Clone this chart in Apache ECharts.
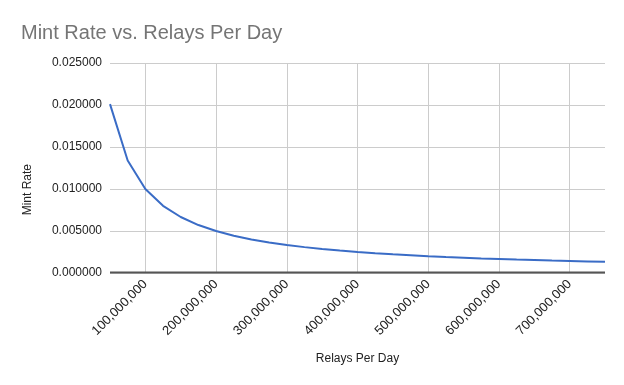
<!DOCTYPE html>
<html>
<head>
<meta charset="utf-8">
<script src="https://cdn.jsdelivr.net/npm/echarts@6/dist/echarts.min.js"></script>
<style>
html,body{margin:0;padding:0;background:#fff;}
#c{width:624px;height:385px;}
</style>
</head>
<body>
<div id="c"></div>
<script>
var relaysPerDay = [50e6, 75e6, 100e6, 125e6, 150e6, 175e6, 200e6, 225e6, 250e6, 275e6, 300e6, 325e6, 350e6, 375e6, 400e6, 425e6, 450e6, 475e6, 500e6, 525e6, 550e6, 575e6, 600e6, 625e6, 650e6, 675e6, 700e6, 725e6, 750e6];
var mintRate = [0.0201, 0.0134, 0.0100, 0.0080, 0.00667, 0.00571, 0.0050, 0.00444, 0.0040, 0.00364, 0.00333, 0.00308, 0.00286, 0.00267, 0.0025, 0.00235, 0.00222, 0.00211, 0.0020, 0.0019, 0.00182, 0.00174, 0.00167, 0.0016, 0.00154, 0.00148, 0.00143, 0.00138, 0.00133];
var xTickValues = [100e6, 200e6, 300e6, 400e6, 500e6, 600e6, 700e6];
var titleText = 'Mint Rate vs. Relays Per Day';
var xAxisTitle = 'Relays Per Day';
var yAxisTitle = 'Mint Rate';

var chart = echarts.init(document.getElementById('c'));
var font = 'Liberation Sans, Arial, sans-serif';
chart.setOption({
  animation: false,
  backgroundColor: '#fff',
  title: {
    text: titleText, left: 16, top: 18,
    textStyle: {fontFamily: font, fontSize: 20, fontWeight: 'normal', color: '#757575'}
  },
  grid: {left: 110, right: 19, top: 63, bottom: 112, containLabel: false},
  xAxis: {
    type: 'value', min: 50e6, max: 750e6,
    name: xAxisTitle, nameLocation: 'middle', nameGap: 80,
    nameTextStyle: {fontFamily: font, fontSize: 12, color: '#222'},
    axisLine: {show: false},
    axisTick: {show: false, customValues: xTickValues},
    splitLine: {show: true, lineStyle: {color: '#cccccc', width: 1}},
    axisLabel: {
      rotate: 45, fontFamily: font, fontSize: 13, color: '#222', margin: 9,
      customValues: xTickValues,
      formatter: function (v) { return v.toLocaleString('en-US'); }
    }
  },
  yAxis: {
    type: 'value', min: 0, max: 0.025, interval: 0.005,
    axisLine: {show: false},
    axisTick: {show: false},
    splitLine: {show: true, lineStyle: {color: '#cccccc', width: 1}},
    axisLabel: {
      fontFamily: font, fontSize: 12, color: '#222', margin: 8,
      formatter: function (v) { return v.toFixed(6); }
    }
  },
  graphic: [
    {type: 'text', left: 22, top: 164, rotation: Math.PI / 2,
     style: {text: yAxisTitle, font: '12px Liberation Sans, Arial, sans-serif', fill: '#222'}},
    {type: 'line', shape: {x1: 110, y1: 272.5, x2: 605, y2: 272.5}, style: {stroke: '#555', lineWidth: 2}, z: 10}
  ],
  series: [{
    type: 'line',
    data: relaysPerDay.map(function (x, i) { return [x, mintRate[i]]; }),
    showSymbol: false,
    lineStyle: {color: '#3a6cc6', width: 2},
    itemStyle: {color: '#3a6cc6'}
  }]
});
</script>
</body>
</html>
